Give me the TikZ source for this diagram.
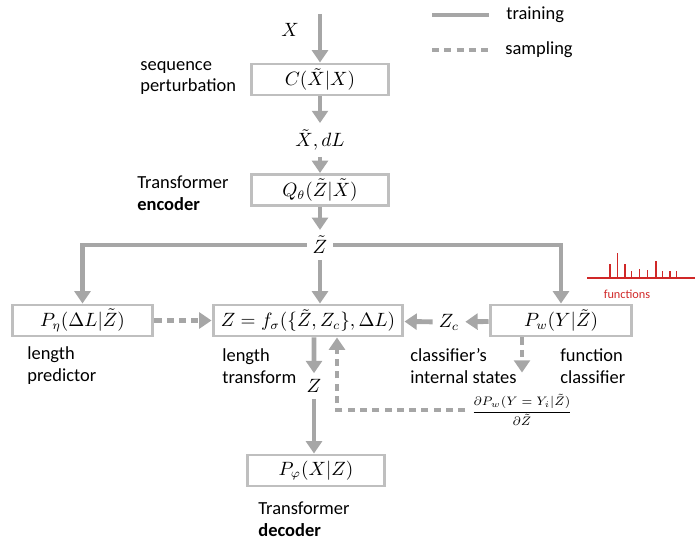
\documentclass[tikz,border=0pt]{standalone}
\usepackage{amsmath}
\usepackage{xcolor}
\usepackage{fontspec}
\setmainfont{Carlito}
\usepackage{tikz}
\usetikzlibrary{arrows.meta, positioning}
\definecolor{arrgray}{RGB}{166,166,166}
\definecolor{boxgray}{RGB}{191,191,191}
\definecolor{specred}{RGB}{208,40,40}

\begin{document}
\begin{tikzpicture}[x=0.02cm, y=-0.02cm,
    font=\fontsize{10.5}{12.5}\selectfont,
    box/.style={draw=boxgray, line width=1.7pt, minimum height=0.62cm, inner sep=1pt},
    train/.style={draw=arrgray, line width=2.8pt, -{Triangle[width=9pt, length=7pt]}},
    samp/.style={train, dash pattern=on 4pt off 3pt},
    note/.style={align=left, anchor=west, inner sep=0pt}]
  \useasboundingbox (0,0) rectangle (697,544);

  \coordinate (la) at (432,15);
  \coordinate (lb) at (489,15);
  \coordinate (lc) at (432,50);
  \coordinate (ld) at (489,50);
  \draw[draw=arrgray, line width=2.8pt] (la) -- (lb);
  \draw[draw=arrgray, line width=2.8pt, dash pattern=on 4pt off 3pt] (lc) -- (ld);
  \node[note] (ltrain) at (506,15) {training};
  \node[note] (lsamp) at (505,50) {sampling};

  \coordinate (top) at (320,14);
  \node (x) at (290,30) {$X$};
  \node[box, minimum width=2.74cm] (cx) at (320,79.5) {$C(\tilde X|X)$};
  \node (xd) at (320,140) {$\tilde X, dL$};
  \node[box, minimum width=2.74cm] (qt) at (320,190) {$Q_\theta(\tilde Z|\tilde X)$};
  \node (zt) at (320,245) {$\tilde Z$};
  \node[box, minimum width=2.82cm] (peta) at (82.5,320.5) {$P_\eta(\Delta L|\tilde Z)$};
  \node[box, minimum width=3.8cm] (fz) at (308,320.5) {$Z=f_\sigma(\{\tilde Z,Z_c\},\Delta L)$};
  \node (zc) at (449,322) {$Z_c$};
  \node[box, minimum width=2.84cm] (pw) at (561,320.5) {$P_w(Y|\tilde Z)$};
  \node (z) at (314,386) {$Z$};
  \node (grad) at (522,410) {\scriptsize$\dfrac{\partial P_w(Y=Y_i|\tilde Z)}{\partial\tilde Z}$};
  \node[box, minimum width=2.76cm] (pphi) at (316,470.5) {$P_\varphi(X|Z)$};

  \node[note] at (140,78) {sequence\\perturbation};
  \node[note] at (137,193) {Transformer\\\textbf{encoder}};
  \node[note] at (27,366) {length\\predictor};
  \node[note] at (222,366) {length\\transform};
  \node[note] at (410,366) {classifier’s\\internal states};
  \node[note] at (560,366) {function\\classifier};
  \node[note] at (258,519) {Transformer\\\textbf{decoder}};

  \draw[train] (top) -- (cx);
  \draw[train] (cx) -- (xd);
  \draw[train] (xd) -- (qt);
  \draw[train] (qt) -- (zt);
  \draw[train] (zt.west) -| (peta);
  \draw[train] (zt.east) -| (pw);
  \draw[train] (zt) -- (zt |- fz.north);
  \draw[samp] (peta) -- (fz);
  \draw[train] (pw) -- (zc);
  \draw[train] (zc) -- (fz);
  \draw[samp, shorten >=9pt] (pw.south -| grad) -- (grad);
  \draw[samp] (grad.west) -| ([xshift=0.58cm]fz.south);
  \draw[train] ([xshift=0.12cm]fz.south) -- (z);
  \draw[train] (z) -- (z |- pphi.north);

  \draw[specred, line width=0.6pt] (587,278) -- (695,278);
  \foreach \sx/\sy in {610/264, 617.7/253.3, 625/264, 631.7/270.7, 639.3/269.3,
                       647.7/270, 656/261, 662.7/270.7, 670/271, 676.7/270.7}
    \draw[specred, line width=0.6pt] (\sx,278) -- (\sx,\sy);
  \node[text=specred, font=\fontsize{7}{8}\selectfont] (fn) at (627,294) {functions};
\end{tikzpicture}
\end{document}
